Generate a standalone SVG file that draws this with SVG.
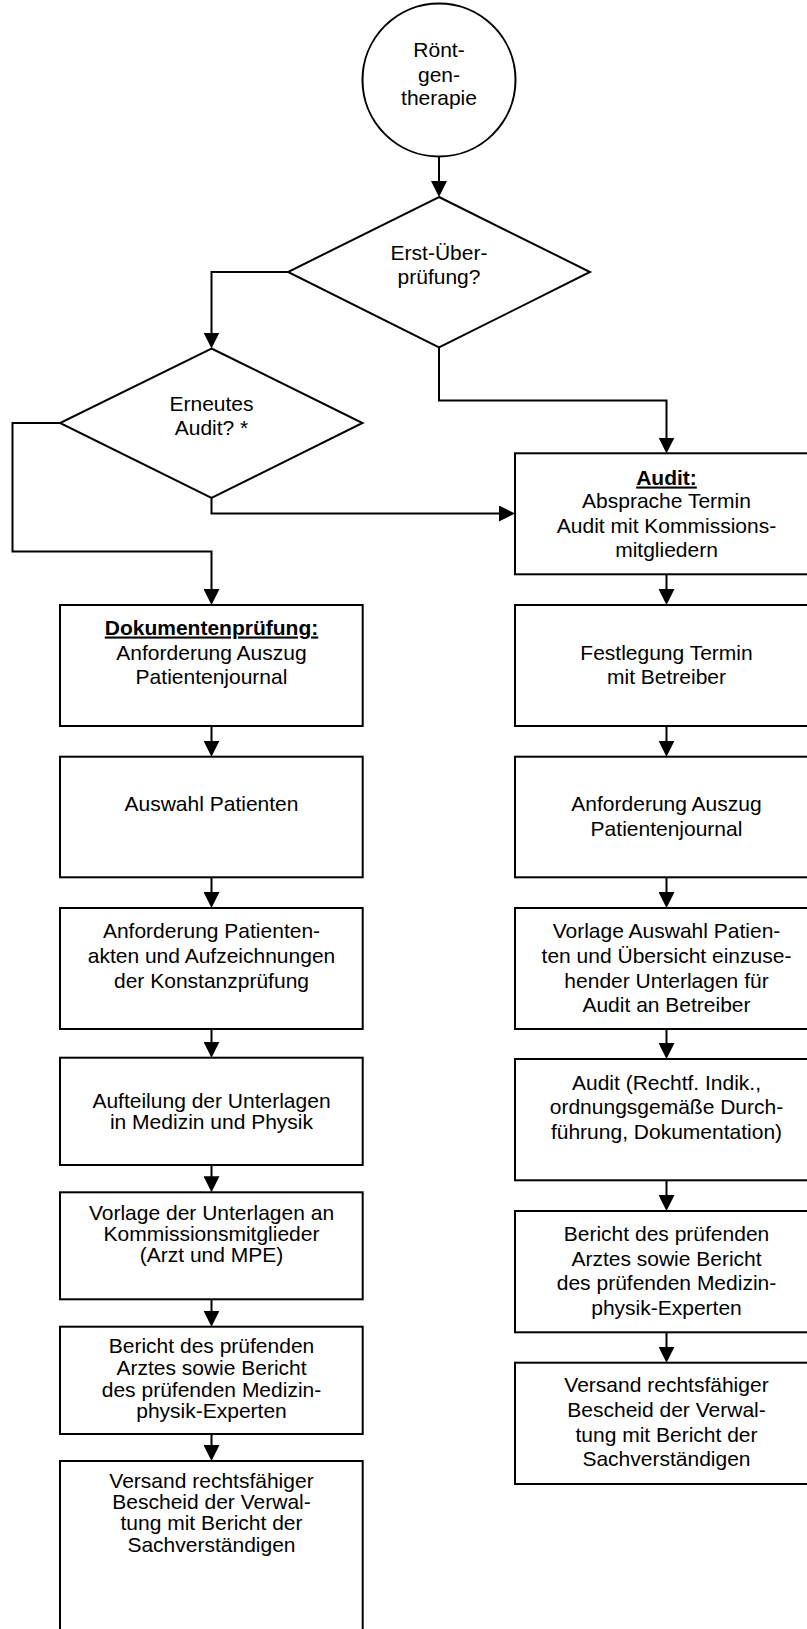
<svg xmlns="http://www.w3.org/2000/svg" width="807" height="1629" viewBox="0 0 807 1629">
<style>
.shape{fill:#fff;stroke:#000;stroke-width:2}
.conn{fill:none;stroke:#000;stroke-width:2}
text{font-family:"Liberation Sans",Arial,sans-serif;font-size:21px;fill:#000;text-anchor:middle}
.l{}
.r{}
.h{font-weight:bold;text-decoration:underline}
</style>
<defs>
<marker id="arr" viewBox="0 0 16 16" refX="2" refY="8" markerWidth="16" markerHeight="16" markerUnits="userSpaceOnUse" orient="auto">
<path d="M0,0 L16,8 L0,16 z" fill="#000"/>
</marker>
</defs>
<rect width="807" height="1629" fill="#fff"/>
<g id="connectors" class="conn" marker-end="url(#arr)">
<path d="M439,157 V183"/>
<path d="M288,272 H211.5 V334.5"/>
<path d="M439,347.5 V400.5 H666.5 V439.5"/>
<path d="M211.5,498 V513.5 H501"/>
<path d="M60,423 H12.5 V551.5 H211.5 V591"/>
<path d="M211.5,726 V742.7"/>
<path d="M211.5,877.3 V894"/>
<path d="M211.5,1029 V1043.7"/>
<path d="M211.5,1165 V1178.3"/>
<path d="M211.5,1299.3 V1312.7"/>
<path d="M211.5,1434 V1447"/>
<path d="M666.5,574.3 V591"/>
<path d="M666.5,726 V742.7"/>
<path d="M666.5,877.3 V894"/>
<path d="M666.5,1029 V1045"/>
<path d="M666.5,1180.3 V1197"/>
<path d="M666.5,1332.3 V1348.7"/>
</g>
<g id="start">
<circle class="shape" cx="439" cy="80" r="76.5"/>
<text x="439" y="57">Rönt-</text>
<text x="439" y="81.5">gen-</text>
<text x="439" y="105">therapie</text>
</g>
<g id="d1">
<polygon class="shape" points="439,197 590,272 439,347.5 288,272"/>
<text x="439" y="259.5">Erst-Über-</text>
<text x="439" y="283.5">prüfung?</text>
</g>
<g id="d2">
<polygon class="shape" points="211.5,348.5 362.5,423 211.5,498 60,423"/>
<text x="211.5" y="411">Erneutes</text>
<text x="211.5" y="435">Audit? *</text>
</g>
<g id="r1">
<rect class="shape" x="515" y="453.3" width="303" height="121"/>
<text class="h" x="666.5" y="484.5">Audit:</text>
<text x="666.5" y="508">Absprache Termin</text>
<text x="666.5" y="532.5">Audit mit Kommissions-</text>
<text x="666.5" y="556.5">mitgliedern</text>
</g>
<g id="r2">
<rect class="shape" x="515" y="605" width="303" height="121"/>
<text x="666.5" y="660">Festlegung Termin</text>
<text x="666.5" y="684">mit Betreiber</text>
</g>
<g id="r3">
<rect class="shape" x="515" y="756.7" width="303" height="120.6"/>
<text x="666.5" y="811">Anforderung Auszug</text>
<text x="666.5" y="835.5">Patientenjournal</text>
</g>
<g id="r4">
<rect class="shape" x="515" y="908" width="303" height="121"/>
<text x="666.5" y="938.3">Vorlage Auswahl Patien-</text>
<text x="666.5" y="962.7">ten und Übersicht einzuse-</text>
<text x="666.5" y="987.5">hender Unterlagen für</text>
<text x="666.5" y="1011.7">Audit an Betreiber</text>
</g>
<g id="r5">
<rect class="shape" x="515" y="1059" width="303" height="121.3"/>
<text x="666.5" y="1090">Audit (Rechtf. Indik.,</text>
<text x="666.5" y="1114">ordnungsgemäße Durch-</text>
<text x="666.5" y="1139">führung, Dokumentation)</text>
</g>
<g id="r6">
<rect class="shape" x="515" y="1211" width="303" height="121.3"/>
<text x="666.5" y="1240.7">Bericht des prüfenden</text>
<text x="666.5" y="1265.5">Arztes sowie Bericht</text>
<text x="666.5" y="1290">des prüfenden Medizin-</text>
<text x="666.5" y="1315">physik-Experten</text>
</g>
<g id="r7">
<rect class="shape" x="515" y="1362.7" width="303" height="121.3"/>
<text x="666.5" y="1392.3">Versand rechtsfähiger</text>
<text x="666.5" y="1416.7">Bescheid der Verwal-</text>
<text x="666.5" y="1441.5">tung mit Bericht der</text>
<text x="666.5" y="1465.7">Sachverständigen</text>
</g>
<g id="l1">
<rect class="shape" x="60" y="605" width="302.7" height="121"/>
<text class="h" x="211.5" y="634.5">Dokumentenprüfung:</text>
<text x="211.5" y="659.5">Anforderung Auszug</text>
<text x="211.5" y="683.5">Patientenjournal</text>
</g>
<g id="l2">
<rect class="shape" x="60" y="756.7" width="302.7" height="120.6"/>
<text x="211.5" y="811">Auswahl Patienten</text>
</g>
<g id="l3">
<rect class="shape" x="60" y="908" width="302.7" height="121"/>
<text x="211.5" y="938.3">Anforderung Patienten-</text>
<text x="211.5" y="962.7">akten und Aufzeichnungen</text>
<text x="211.5" y="987.5">der Konstanzprüfung</text>
</g>
<g id="l4">
<rect class="shape" x="60" y="1057.7" width="302.7" height="107.3"/>
<text x="211.5" y="1107.5">Aufteilung der Unterlagen</text>
<text x="211.5" y="1128.5">in Medizin und Physik</text>
</g>
<g id="l5">
<rect class="shape" x="60" y="1192.3" width="302.7" height="107"/>
<text x="211.5" y="1220">Vorlage der Unterlagen an</text>
<text x="211.5" y="1241">Kommissionsmitglieder</text>
<text x="211.5" y="1261.7">(Arzt und MPE)</text>
</g>
<g id="l6">
<rect class="shape" x="60" y="1326.7" width="302.7" height="107.3"/>
<text x="211.5" y="1353.3">Bericht des prüfenden</text>
<text x="211.5" y="1375">Arztes sowie Bericht</text>
<text x="211.5" y="1396.5">des prüfenden Medizin-</text>
<text x="211.5" y="1418.3">physik-Experten</text>
</g>
<g id="l7">
<rect class="shape" x="60" y="1461" width="302.7" height="190"/>
<text x="211.5" y="1487.7">Versand rechtsfähiger</text>
<text x="211.5" y="1508.5">Bescheid der Verwal-</text>
<text x="211.5" y="1530">tung mit Bericht der</text>
<text x="211.5" y="1551.7">Sachverständigen</text>
</g>
</svg>
